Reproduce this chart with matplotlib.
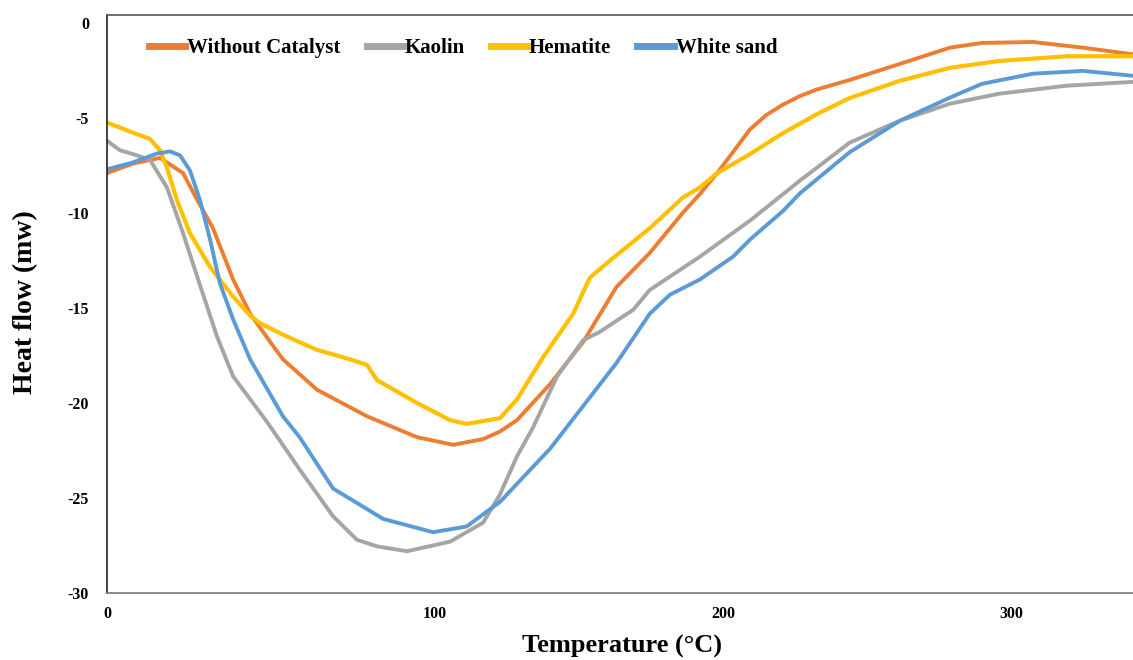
import matplotlib
matplotlib.use('Agg')
import matplotlib.pyplot as plt

plt.rcParams['font.family'] = 'Liberation Serif'
plt.rcParams['font.weight'] = 'bold'

# data (temperature in C, heat flow in mW)
t_none = [-13.9, -4.9, 4.5, 12.5, 17.4, 22.9, 29.9, 35.8, 43.8, 47.2, 59.0, 76.4, 93.8, 106.3,
          116.7, 122.6, 128.5, 140.0, 151.4, 163.0, 174.6, 186.0, 192.0, 198.0, 209.4, 215.0,
          220.8, 226.7, 232.6, 244.0, 261.5, 278.8, 290.0, 307.6, 325.0, 342.4]
hf_none = [-7.9, -7.4, -7.1, -7.9, -9.3, -10.8, -13.5, -15.3, -17.0, -17.7, -19.3, -20.7, -21.8, -22.2,
           -21.9, -21.5, -20.9, -19.0, -16.8, -13.9, -12.1, -10.0, -9.0, -7.9, -5.6, -4.85,
           -4.3, -3.85, -3.5, -3.0, -2.15, -1.3, -1.05, -1.0, -1.3, -1.65]

t_kaolin = [-13.9, -9.4, -4.9, 1.0, 6.9, 12.5, 18.4, 24.3, 29.9, 41.7, 53.0, 64.6, 72.9, 80.0, 90.3,
            105.2, 116.7, 122.6, 128.5, 134.0, 142.4, 151.4, 157.3, 168.8, 174.6, 192.0, 209.4,
            226.7, 244.0, 261.5, 278.8, 296.0, 319.4, 342.4]
hf_kaolin = [-6.2, -6.7, -6.9, -7.2, -8.65, -11.06, -13.8, -16.5, -18.6, -21.0, -23.5, -25.96, -27.2, -27.55, -27.8,
             -27.3, -26.3, -24.8, -22.8, -21.3, -18.6, -16.7, -16.25, -15.1, -14.05, -12.3, -10.4,
             -8.3, -6.3, -5.14, -4.25, -3.72, -3.3, -3.1]

t_hem = [-13.9, -4.9, 1.0, 4.5, 6.9, 10.4, 14.9, 21.9, 29.9, 35.8, 39.2, 47.2, 53.0, 59.0, 70.5,
         76.4, 79.9, 93.8, 105.2, 111.0, 122.6, 128.5, 137.5, 148.0, 153.8, 160.8, 174.6, 186.0,
         192.0, 198.0, 209.4, 220.8, 232.6, 244.0, 261.5, 278.8, 296.0, 319.4, 342.4]
hf_hem = [-5.24, -5.77, -6.1, -6.7, -7.6, -9.33, -11.06, -12.85, -14.4, -15.4, -15.8, -16.4, -16.8, -17.2, -17.7,
          -18.0, -18.8, -20.0, -20.9, -21.1, -20.8, -19.8, -17.6, -15.3, -13.4, -12.5, -10.8, -9.2,
          -8.65, -7.9, -6.9, -5.8, -4.8, -3.95, -3.04, -2.36, -2.0, -1.75, -1.75]

t_sand = [-13.9, -4.9, 3.5, 8.0, 11.5, 14.9, 18.4, 21.9, 25.3, 29.9, 35.8, 47.2, 53.0, 64.6, 82.0,
          99.3, 111.0, 122.6, 140.0, 163.0, 174.6, 181.6, 192.0, 203.5, 209.4, 220.8, 226.7, 244.0,
          261.5, 278.8, 290.0, 307.6, 325.0, 342.4]
hf_sand = [-7.7, -7.34, -6.87, -6.76, -6.97, -7.76, -9.33, -11.4, -13.7, -15.6, -17.7, -20.7, -21.8, -24.5, -26.1,
           -26.8, -26.5, -25.2, -22.4, -17.9, -15.3, -14.3, -13.5, -12.3, -11.4, -9.9, -8.97, -6.8,
           -5.14, -3.93, -3.2, -2.67, -2.52, -2.78]

x_tick_labels = ['0', '100', '200', '300']
y_ticks = [0, -5, -10, -15, -20, -25, -30]

fig = plt.figure(figsize=(11.33, 6.6), dpi=100)
ax = fig.add_axes([107/1133, 67/660, 1 - 107/1133, (593-15)/660])

ax.plot(t_none, hf_none, color='#ED7D31', lw=2.8, label='Without Catalyst')
ax.plot(t_kaolin, hf_kaolin, color='#A5A5A5', lw=2.8, label='Kaolin')
ax.plot(t_hem, hf_hem, color='#FFC000', lw=3.0, label='Hematite')
ax.plot(t_sand, hf_sand, color='#5B9BD5', lw=2.8, label='White sand')

xmin, xmax = -13.9, 342.4
ax.set_xlim(xmin, xmax)
ax.set_ylim(-30, 0.42)
# excel puts the first label at the axis start
ax.set_xticks([xmin, 100, 200, 300])
ax.set_xticklabels(x_tick_labels)
ax.set_yticks(y_ticks)
ax.set_yticklabels([str(v) for v in y_ticks])
ax.tick_params(length=0, labelsize=11.5)
ax.tick_params(axis='x', pad=9)
ax.tick_params(axis='y', pad=13)
for lab in ax.get_xticklabels() + ax.get_yticklabels():
    lab.set_fontweight('bold')

ax.spines['right'].set_visible(False)
ax.spines['top'].set_color('#555555')
ax.spines['bottom'].set_color('#777777')
ax.spines['left'].set_color('#222222')
for s in ['top', 'bottom', 'left']:
    ax.spines[s].set_linewidth(1.2)

fig.text(622/1133, 1 - 646/660, 'Temperature (°C)', ha='center', va='center',
         fontsize=19, fontweight='bold')
fig.text(26/1133, 1 - 302/660, 'Heat flow (mw)', ha='center', va='center',
         rotation=90, fontsize=20, fontweight='bold')

leg = fig.legend(loc='center left', bbox_to_anchor=(149/1133, 1 - 48/660), ncol=4,
                 frameon=False, fontsize=15, handlelength=1.75, handletextpad=0.08,
                 columnspacing=1.25, borderpad=0, borderaxespad=0)
for line in leg.get_lines():
    line.set_linewidth(5)

fig.savefig('out.png', dpi=100)
